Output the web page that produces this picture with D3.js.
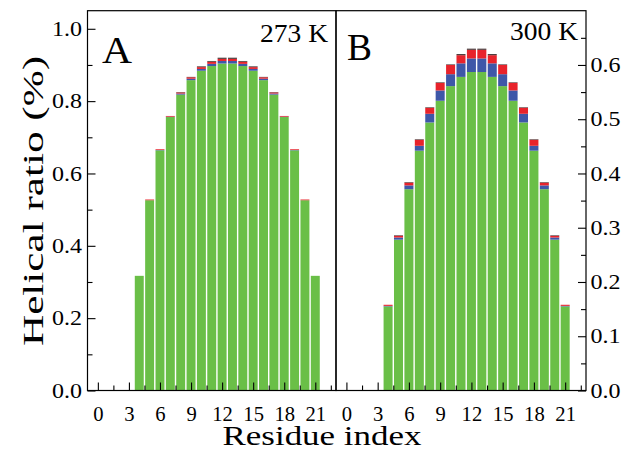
<!DOCTYPE html>
<html><head><meta charset="utf-8">
<script src="https://cdn.jsdelivr.net/npm/d3@7"></script>
<style>
body{margin:0;background:#fff}svg{display:block}
</style>
</head><body>
<svg id="c" width="625" height="450"></svg>
<script>
const residues = [4,5,6,7,8,9,10,11,12,13,14,15,16,17,18,19,20,21];
const xTicks = [0,3,6,9,12,15,18,21];
const xMinor = [1.5,4.5,7.5,10.5,13.5,16.5,19.5,22.5];
const yTicksA = [0,0.2,0.4,0.6,0.8,1.0];
const yMinorA = [0.1,0.3,0.5,0.7,0.9];
const yTicksB = [0,0.1,0.2,0.3,0.4,0.5,0.6];
const yMinorB = [0.05,0.15,0.25,0.35,0.45,0.55,0.65];

// Panel A, 273 K
const A_green = [0.317,0.526,0.664,0.756,0.818,0.858,0.884,0.897,0.904,0.904,0.897,0.884,0.858,0.818,0.756,0.664,0.526,0.317];
const A_blue  = [0,0,0.001,0.001,0.003,0.004,0.005,0.006,0.007,0.007,0.006,0.005,0.004,0.003,0.001,0.001,0,0];
const A_red   = [0,0.002,0.002,0.002,0.003,0.004,0.005,0.006,0.006,0.006,0.006,0.005,0.004,0.003,0.002,0.002,0.002,0];
const A_black = [0,0,0,0,0.001,0.001,0.002,0.002,0.003,0.003,0.002,0.002,0.001,0.001,0,0,0,0];
// Panel B, 300 K
const B_green = [0.155,0.278,0.371,0.442,0.494,0.534,0.561,0.578,0.587,0.587,0.578,0.561,0.534,0.494,0.442,0.371,0.278,0.155];
const B_blue  = [0.001,0.004,0.007,0.009,0.016,0.019,0.022,0.025,0.025,0.025,0.025,0.022,0.019,0.016,0.009,0.007,0.004,0.001];
const B_red   = [0.002,0.003,0.005,0.011,0.011,0.014,0.017,0.015,0.016,0.016,0.015,0.017,0.014,0.011,0.011,0.005,0.003,0.002];
const B_black = [0,0.001,0.001,0.001,0.001,0.001,0.001,0.002,0.002,0.002,0.002,0.001,0.001,0.001,0.001,0.001,0.001,0];

const seriesKeys = ["green","blue","red","black"];
const colors = {green:"#6abf47", blue:"#3e57a8", red:"#e8232b", black:"#3a2a2a"};
const FONT = "'Liberation Serif', Tinos, 'Nimbus Roman', 'Times New Roman', 'DejaVu Serif', serif";

const svg = d3.select("#c");
const plotTop = 10.7, plotBottom = 390.5;
const xA = d3.scaleLinear().domain([-1,23]).range([87.5,336]);
const xB = d3.scaleLinear().domain([-1,23]).range([336,586]);
const yA = d3.scaleLinear().domain([0,1.05]).range([plotBottom,plotTop]);
const yB = d3.scaleLinear().domain([0,0.7]).range([plotBottom,plotTop]);

function rows(g,b,r,k){ return residues.map((res,i)=>({res, green:g[i], blue:b[i], red:r[i], black:k[i]})); }

function drawBars(data, x, y){
  const stack = d3.stack().keys(seriesKeys)(data);
  const gg = svg.append("g");
  stack.forEach(layer=>{
    gg.append("g").attr("fill", colors[layer.key])
      .selectAll("rect").data(layer).join("rect")
      .attr("x", d=>x(d.data.res-0.5)+0.7)
      .attr("width", d=>x(d.data.res+0.5)-x(d.data.res-0.5)-1.4)
      .attr("y", d=>y(d[1]))
      .attr("height", d=>Math.max(0, y(d[0])-y(d[1])));
  });
}
drawBars(rows(A_green,A_blue,A_red,A_black), xA, yA);
drawBars(rows(B_green,B_blue,B_red,B_black), xB, yB);

function styleAxis(g){ g.attr("font-family",FONT); g.select(".domain").remove(); g.selectAll("line").attr("stroke","#000").attr("stroke-width",1.1); g.selectAll("text").attr("font-family",FONT).attr("fill","#000"); }
function fit(sel, perChar){ sel.attr("lengthAdjust","spacingAndGlyphs").attr("textLength", function(){ return this.textContent.length*perChar; }); }

// X axes
[xA,xB].forEach(x=>{
  const g = svg.append("g").attr("transform",`translate(0,${plotBottom})`)
    .call(d3.axisBottom(x).tickValues(xTicks).tickSizeInner(-8).tickSizeOuter(0).tickFormat(d3.format("d")));
  styleAxis(g);
  const t = g.selectAll("text").attr("y",30.5).attr("dy",0).attr("font-size",21);
  fit(t, 10.3);
  const gm = svg.append("g").attr("transform",`translate(0,${plotBottom})`)
    .call(d3.axisBottom(x).tickValues(xMinor).tickSizeInner(-5).tickSizeOuter(0).tickFormat(""));
  styleAxis(gm);
});

// Y axis A
{
  const g = svg.append("g").attr("transform","translate(87.5,0)")
    .call(d3.axisLeft(yA).tickValues(yTicksA).tickSizeInner(-8).tickSizeOuter(0).tickFormat(d3.format(".1f")));
  styleAxis(g);
  const t = g.selectAll("text").attr("x",-5.5).attr("font-size",21);
  fit(t, 10);
  const gm = svg.append("g").attr("transform","translate(87.5,0)")
    .call(d3.axisLeft(yA).tickValues(yMinorA).tickSizeInner(-5).tickSizeOuter(0).tickFormat(""));
  styleAxis(gm);
}
// Y axis B (right)
{
  const g = svg.append("g").attr("transform","translate(586,0)")
    .call(d3.axisRight(yB).tickValues(yTicksB).tickSizeInner(-8).tickSizeOuter(0).tickFormat(d3.format(".1f")));
  styleAxis(g);
  const t = g.selectAll("text").attr("x",4.5).attr("font-size",21);
  fit(t, 10);
  const gm = svg.append("g").attr("transform","translate(586,0)")
    .call(d3.axisRight(yB).tickValues(yMinorB).tickSizeInner(-5).tickSizeOuter(0).tickFormat(""));
  styleAxis(gm);
}

// Frames
svg.append("rect").attr("x",87.5).attr("y",plotTop).attr("width",336-87.5).attr("height",plotBottom-plotTop)
  .attr("fill","none").attr("stroke","#000").attr("stroke-width",1.2);
svg.append("rect").attr("x",336).attr("y",plotTop).attr("width",586-336).attr("height",plotBottom-plotTop)
  .attr("fill","none").attr("stroke","#000").attr("stroke-width",1.2);

// Labels
function txt(x,y,s,size,anchor,len){ const t = svg.append("text").attr("x",x).attr("y",y).text(s)
  .attr("font-family",FONT).attr("font-size",size).attr("text-anchor",anchor||"start").attr("fill","#000");
  if(len) t.attr("textLength",len).attr("lengthAdjust","spacingAndGlyphs"); return t; }
txt(102,63,"A",38,"start",30);
txt(328,42,"273 K",26,"end",68);
txt(347,60,"B",38,"start",25);
txt(578,40,"300 K",26,"end",68);
txt(322,445,"Residue index",28,"middle",199);
svg.append("text").attr("transform","translate(33,201) rotate(-90)")
  .attr("text-anchor","middle").attr("dominant-baseline","central")
  .attr("font-family",FONT).attr("font-size",29).attr("fill","#000")
  .attr("textLength",290).attr("lengthAdjust","spacingAndGlyphs")
  .text("Helical ratio (%)");
</script>
</body></html>
